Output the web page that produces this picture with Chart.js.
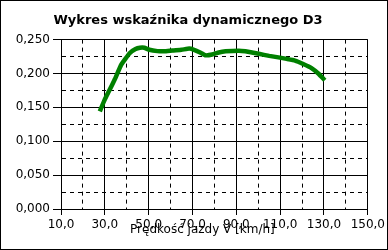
<!DOCTYPE html>
<html>
<head>
<meta charset="utf-8">
<script src="https://cdn.jsdelivr.net/npm/chart.js@4/dist/chart.umd.min.js"></script>
<style>
  html, body { margin: 0; padding: 0; background: #fff; }
  #wrap { width: 388px; height: 250px; position: relative; }
</style>
</head>
<body>
<div id="wrap"><canvas id="c" width="388" height="250"></canvas></div>
<script>
const chartTitle = 'Wykres wskaźnika dynamicznego D3';
const xAxisTitle = 'Prędkość jazdy V [km/h]';
const xTickValues = [10, 30, 50, 70, 90, 110, 130, 150];
const yTickValues = [0, 0.05, 0.1, 0.15, 0.2, 0.25];
const speeds = [27.7, 29.9, 32.2, 34.5, 37.5, 41.3, 44.0, 46.0, 48.0, 50.3, 54.0, 57.1, 60.9, 65.0, 68.5, 70.7, 73.5, 76.0, 79.0, 82.0, 85.1, 91.1, 94.1, 100.2, 105.0, 109.2, 113.0, 116.8, 120.5, 124.3, 127.4, 130.4];
const d3Values = [0.144, 0.161, 0.176, 0.191, 0.213, 0.230, 0.236, 0.238, 0.238, 0.235, 0.233, 0.2327, 0.234, 0.235, 0.2367, 0.235, 0.231, 0.2268, 0.228, 0.231, 0.2327, 0.2337, 0.2327, 0.229, 0.226, 0.2238, 0.2215, 0.219, 0.214, 0.208, 0.200, 0.190];

const points = speeds.map((v, i) => ({ x: v, y: d3Values[i] }));

const isMajorX = v => xTickValues.some(t => Math.abs(t - v) < 1e-6);
const isMajorY = v => yTickValues.some(t => Math.abs(t - v) < 1e-6);

const frame = {
  id: 'frame',
  beforeDraw(chart) {
    const ctx = chart.ctx;
    ctx.save();
    ctx.fillStyle = '#fff';
    ctx.fillRect(0, 0, chart.width, chart.height);
    ctx.restore();
  },
  afterDraw(chart) {
    const ctx = chart.ctx;
    ctx.save();
    ctx.strokeStyle = '#000';
    ctx.lineWidth = 1;
    ctx.strokeRect(0.5, 0.5, chart.width - 1, chart.height - 1);
    const xs = chart.scales.x;
    ctx.fillStyle = '#000';
    ctx.font = '12px "DejaVu Sans"';
    ctx.textAlign = 'center';
    ctx.textBaseline = 'middle';
    ctx.fillText(xAxisTitle, (xs.left + xs.right) / 2 - 12, xs.top + 21);
    ctx.restore();
  }
};

new Chart(document.getElementById('c'), {
  type: 'line',
  data: {
    datasets: [{
      data: points,
      borderColor: 'rgb(0,128,0)',
      borderWidth: 4.5,
      pointRadius: 0,
      tension: 0.1,
      fill: false
    }]
  },
  options: {
    responsive: false,
    animation: false,
    devicePixelRatio: 1,
    layout: { padding: { left: 6, right: 18, top: 0, bottom: 0 } },
    plugins: {
      legend: { display: false },
      tooltip: { enabled: false },
      title: {
        display: true,
        text: chartTitle,
        color: '#000',
        font: { family: 'DejaVu Sans', size: 13, weight: 'bold' },
        padding: { top: 13, bottom: 11 }
      }
    },
    scales: {
      x: {
        type: 'linear',
        min: 10, max: 150,
        afterFit: s => { s.height = 41; },
        ticks: {
          stepSize: 10,
          autoSkip: false,
          maxRotation: 0,
          padding: 3,
          color: '#000',
          font: { family: 'DejaVu Sans', size: 12 },
          callback: v => isMajorX(v) ? v.toFixed(1).replace('.', ',') : ''
        },
        grid: {
          color: '#000',
          lineWidth: 1,
          tickLength: 6,
          tickColor: ctx => (ctx.tick && isMajorX(ctx.tick.value)) ? '#000' : 'rgba(0,0,0,0)'
        },
        border: {
          display: true,
          color: '#000',
          dash: ctx => (ctx.tick && !isMajorX(ctx.tick.value)) ? [4, 4] : []
        }
      },
      y: {
        type: 'linear',
        min: 0, max: 0.25,
        afterFit: s => { s.width = 55; },
        ticks: {
          stepSize: 0.025,
          autoSkip: false,
          padding: 3,
          color: '#000',
          font: { family: 'DejaVu Sans', size: 12 },
          callback: v => isMajorY(v) ? v.toFixed(3).replace('.', ',') : ''
        },
        grid: {
          color: '#000',
          lineWidth: 1,
          tickLength: 8,
          tickColor: ctx => (ctx.tick && isMajorY(ctx.tick.value)) ? '#000' : 'rgba(0,0,0,0)'
        },
        border: {
          display: true,
          color: '#000',
          dash: ctx => (ctx.tick && !isMajorY(ctx.tick.value)) ? [4, 4] : []
        }
      }
    }
  },
  plugins: [frame]
});
</script>
</body>
</html>
